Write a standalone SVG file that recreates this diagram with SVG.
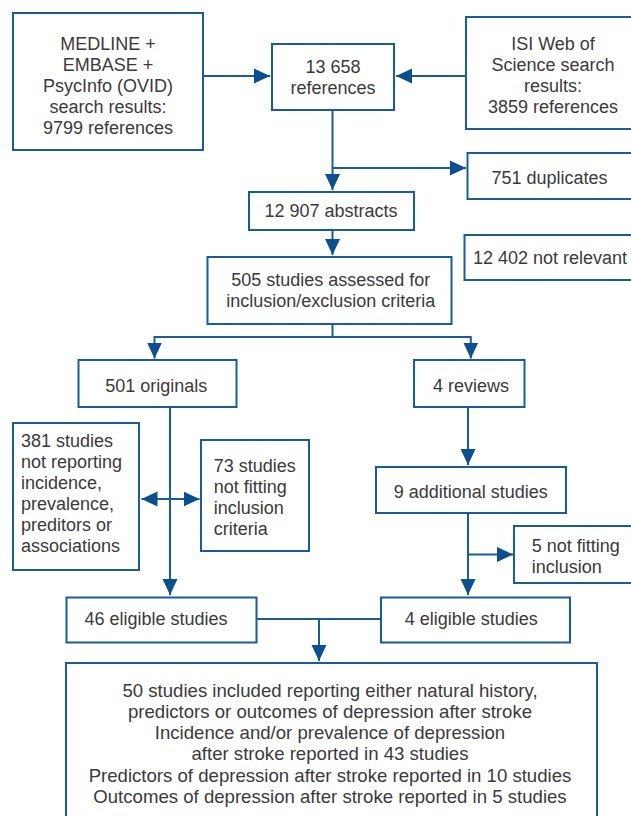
<svg xmlns="http://www.w3.org/2000/svg" width="631" height="816" viewBox="0 0 631 816">
<style>
.box{fill:#fff;stroke:#1a5c98;stroke-width:2}
.t{font-family:"Liberation Sans",Arial,sans-serif;font-size:18px;fill:#3a3a3a}
.c{text-anchor:middle}
.con{fill:none;stroke:#1a5c98;stroke-width:2}
.ah{marker-end:url(#arr)}
</style>
<defs>
<marker id="arr" viewBox="0 0 16 16" refX="16" refY="8" markerWidth="16" markerHeight="16" markerUnits="userSpaceOnUse" orient="auto-start-reverse">
<path d="M0,0.5 L16,8 L0,15.5 Z" fill="#0b4f8e"/>
</marker>
</defs>
<rect width="631" height="816" fill="#fff"/>
<g id="connectors">
<line class="con ah" x1="204" y1="76" x2="270" y2="76"/>
<line class="con ah" x1="465" y1="76" x2="396" y2="76"/>
<line class="con ah" x1="332.5" y1="111" x2="332.5" y2="190"/>
<line class="con ah" x1="332.5" y1="168" x2="466" y2="168"/>
<line class="con ah" x1="332.5" y1="230" x2="332.5" y2="255"/>
<line class="con" x1="332.5" y1="325" x2="332.5" y2="337"/>
<line class="con" x1="154.5" y1="337" x2="470.8" y2="337"/>
<line class="con ah" x1="154.5" y1="336" x2="154.5" y2="358.5"/>
<line class="con ah" x1="470.8" y1="336" x2="470.8" y2="358.5"/>
<line class="con ah" x1="170" y1="407" x2="170" y2="595"/>
<line class="con" x1="141.5" y1="499" x2="199.5" y2="499" marker-start="url(#arr)" marker-end="url(#arr)"/>
<line class="con ah" x1="468" y1="407" x2="468" y2="465"/>
<line class="con ah" x1="468" y1="513" x2="468" y2="595"/>
<line class="con ah" x1="468" y1="554.5" x2="513" y2="554.5"/>
<line class="con" x1="257" y1="619" x2="380" y2="619"/>
<line class="con ah" x1="319" y1="619" x2="319" y2="661"/>
</g>
<g id="n-medline">
<rect class="box" x="13" y="13" width="190" height="137"/>
<text class="t c" x="108" y="49.5">MEDLINE +</text>
<text class="t c" x="108" y="70.5">EMBASE +</text>
<text class="t c" x="108" y="91.5">PsycInfo (OVID)</text>
<text class="t c" x="108" y="112.5">search results:</text>
<text class="t c" x="108" y="133.5">9799 references</text>
</g>
<g id="n-13658">
<rect class="box" x="272" y="44" width="122" height="66"/>
<text class="t c" x="333" y="72.5">13 658</text>
<text class="t c" x="333" y="93.5">references</text>
</g>
<g id="n-isi">
<rect class="box" x="466" y="17" width="170" height="112"/>
<text class="t c" x="553" y="49.5">ISI Web of</text>
<text class="t c" x="553" y="70.5">Science search</text>
<text class="t c" x="553" y="91.5">results:</text>
<text class="t c" x="553" y="112.5">3859 references</text>
</g>
<g id="n-duplicates">
<rect class="box" x="467.5" y="153" width="170" height="46"/>
<text class="t c" x="549.5" y="184">751 duplicates</text>
</g>
<g id="n-abstracts">
<rect class="box" x="249" y="192" width="165" height="38"/>
<text class="t c" x="331" y="216.5">12 907 abstracts</text>
</g>
<g id="n-notrelevant">
<rect class="box" x="464.5" y="235" width="170" height="45"/>
<text class="t" x="473" y="264">12 402 not relevant</text>
</g>
<g id="n-505">
<rect class="box" x="207.5" y="257" width="244" height="67"/>
<text class="t c" x="330.7" y="285.5">505 studies assessed for</text>
<text class="t c" x="330.7" y="306.5">inclusion/exclusion criteria</text>
</g>
<g id="n-originals">
<rect class="box" x="78.5" y="360" width="158" height="47"/>
<text class="t c" x="156.3" y="391.5">501 originals</text>
</g>
<g id="n-reviews">
<rect class="box" x="414" y="360" width="110.5" height="47"/>
<text class="t c" x="471" y="391.5">4 reviews</text>
</g>
<g id="n-381">
<rect class="box" x="13" y="423" width="126" height="147"/>
<text class="t" x="21" y="447.3">381 studies</text>
<text class="t" x="21" y="468.3">not reporting</text>
<text class="t" x="21" y="489.3">incidence,</text>
<text class="t" x="21" y="510.3">prevalence,</text>
<text class="t" x="21" y="531.3">preditors or</text>
<text class="t" x="21" y="552.3">associations</text>
</g>
<g id="n-73">
<rect class="box" x="201" y="440" width="108" height="111"/>
<text class="t" x="213.7" y="471.7">73 studies</text>
<text class="t" x="213.7" y="492.7">not fitting</text>
<text class="t" x="213.7" y="513.7">inclusion</text>
<text class="t" x="213.7" y="534.7">criteria</text>
</g>
<g id="n-additional">
<rect class="box" x="376" y="467" width="190" height="46"/>
<text class="t c" x="470.8" y="497.5">9 additional studies</text>
</g>
<g id="n-5notfitting">
<rect class="box" x="514" y="526" width="125" height="57"/>
<text class="t" x="531.7" y="551.5">5 not fitting</text>
<text class="t" x="531.7" y="572.5">inclusion</text>
</g>
<g id="n-46eligible">
<rect class="box" x="66.5" y="597.5" width="190" height="45"/>
<text class="t c" x="156" y="625">46 eligible studies</text>
</g>
<g id="n-4eligible">
<rect class="box" x="381" y="597.5" width="189" height="45"/>
<text class="t c" x="471.2" y="625">4 eligible studies</text>
</g>
<g id="n-50included">
<rect class="box" x="66" y="663" width="531" height="165"/>
<text class="t c" x="330" y="696.5" style="font-size:18.6px">50 studies included reporting either natural history,</text>
<text class="t c" x="330" y="717.8" style="font-size:18.6px">predictors or outcomes of depression after stroke</text>
<text class="t c" x="330" y="739.1" style="font-size:18.6px">Incidence and/or prevalence of depression</text>
<text class="t c" x="330" y="760.4" style="font-size:18.6px">after stroke reported in 43 studies</text>
<text class="t c" x="330" y="781.7" style="font-size:18.6px">Predictors of depression after stroke reported in 10 studies</text>
<text class="t c" x="330" y="803" style="font-size:18.6px">Outcomes of depression after stroke reported in 5 studies</text>
</g>
</svg>
